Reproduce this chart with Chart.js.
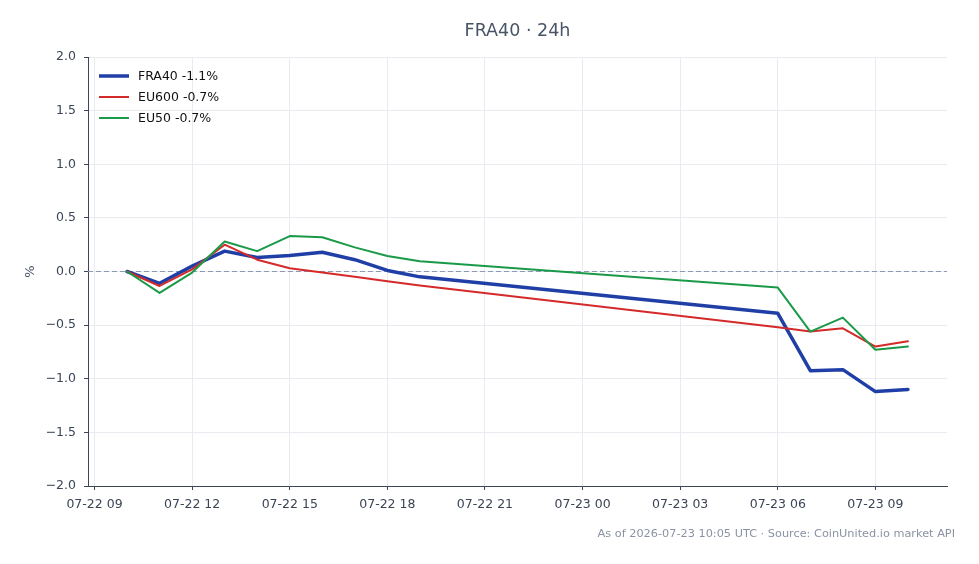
<!DOCTYPE html>
<html>
<head>
  <title>FRA40 24h</title>
  <script src="https://cdn.jsdelivr.net/npm/chart.js@4/dist/chart.umd.min.js"></script>
  <style>
    body { margin: 0; background: #fff; }
  </style>
</head>
<body>
  <canvas id="chart" width="979" height="564"></canvas>
  <script>
    // hours counted from 07-22 00:00 UTC
    const hours = [10, 11, 12, 13, 14, 15, 16, 17, 18, 19, 30, 31, 32, 33, 34];
    const fra40 = [0.00, -0.11, 0.05, 0.19, 0.13, 0.15, 0.18, 0.11, 0.01, -0.05, -0.39, -0.925, -0.915, -1.12, -1.10];
    const eu600 = [0.00, -0.135, 0.02, 0.25, 0.11, 0.03, -0.01, -0.05, -0.09, -0.13, -0.52, -0.56, -0.53, -0.70, -0.65];
    const eu50 = [0.00, -0.20, -0.01, 0.28, 0.19, 0.33, 0.32, 0.225, 0.145, 0.095, -0.15, -0.56, -0.43, -0.73, -0.70];
    const tickHours = [9, 12, 15, 18, 21, 24, 27, 30, 33];
    const tickLabels = ['07-22 09', '07-22 12', '07-22 15', '07-22 18', '07-22 21', '07-23 00', '07-23 03', '07-23 06', '07-23 09'];
    const seriesNames = ['FRA40 -1.1%', 'EU600 -0.7%', 'EU50 -0.7%'];

    const pts = vals => hours.map((h, i) => ({ x: h, y: vals[i] }));
    const axisColor = '#3b4556';
    const gridColor = '#e8ebf0';
    const font = 'DejaVu Sans';

    const extras = {
      id: 'extras',
      beforeDatasetsDraw(chart) {
        const { ctx, chartArea, scales } = chart;
        const y0 = scales.y.getPixelForValue(0);
        ctx.save();
        ctx.strokeStyle = '#8d9ab6';
        ctx.lineWidth = 1;
        ctx.setLineDash([5, 3]);
        ctx.beginPath();
        ctx.moveTo(chartArea.left, y0);
        ctx.lineTo(chartArea.right, y0);
        ctx.stroke();
        ctx.restore();
      },
      afterDraw(chart) {
        const { ctx, chartArea } = chart;
        ctx.save();
        ctx.fillStyle = '#485468';
        ctx.font = '17.5px ' + font;
        ctx.textAlign = 'center';
        ctx.textBaseline = 'middle';
        ctx.fillText('FRA40 · 24h', (chartArea.left + chartArea.right) / 2, 31);

        ctx.fillStyle = '#8a93a3';
        ctx.font = '11.3px ' + font;
        ctx.textAlign = 'right';
        ctx.textBaseline = 'alphabetic';
        ctx.fillText('As of 2026-07-23 10:05 UTC · Source: CoinUnited.io market API', 955, 537);

        ctx.translate(31, (chartArea.top + chartArea.bottom) / 2);
        ctx.rotate(-Math.PI / 2);
        ctx.fillStyle = '#485468';
        ctx.font = '13px ' + font;
        ctx.textAlign = 'center';
        ctx.textBaseline = 'middle';
        ctx.fillText('%', 0, 0);
        ctx.restore();

        // legend inside plot, top-left
        ctx.save();
        chart.data.datasets.forEach((ds, i) => {
          const y = 76 + i * 21;
          ctx.strokeStyle = ds.borderColor;
          ctx.lineWidth = ds.borderWidth;
          ctx.beginPath();
          ctx.moveTo(99, y);
          ctx.lineTo(129, y);
          ctx.stroke();
          ctx.fillStyle = '#111';
          ctx.font = '12.5px ' + font;
          ctx.textBaseline = 'middle';
          ctx.fillText(ds.label, 138, y + 1);
        });
        ctx.restore();
      }
    };

    new Chart(document.getElementById('chart'), {
      type: 'line',
      data: {
        datasets: [
          { label: seriesNames[0], data: pts(fra40), borderColor: '#1f3fa6', borderWidth: 3.5, order: 3 },
          { label: seriesNames[1], data: pts(eu600), borderColor: '#d42a2a', borderWidth: 2, order: 2 },
          { label: seriesNames[2], data: pts(eu50), borderColor: '#1a9a48', borderWidth: 2, order: 1 }
        ]
      },
      options: {
        responsive: false,
        animation: false,
        elements: { point: { radius: 0 }, line: { tension: 0, borderCapStyle: 'round', borderJoinStyle: 'round' } },
        layout: { padding: { top: 57, right: 32, bottom: 44, left: 0 } },
        plugins: { legend: { display: false }, tooltip: { enabled: false } },
        scales: {
          x: {
            type: 'linear',
            min: 8.8,
            max: 35.2,
            afterBuildTicks: scale => { scale.ticks = tickHours.map(v => ({ value: v })); },
            afterFit: scale => { scale.height = 34; },
            ticks: {
              callback: v => tickLabels[tickHours.indexOf(v)],
              color: axisColor,
              font: { family: font, size: 12.5 },
              maxRotation: 0,
              padding: 7
            },
            grid: { color: gridColor, tickColor: axisColor, tickLength: 4 },
            border: { color: axisColor, width: 1 }
          },
          y: {
            min: -2,
            max: 2,
            afterFit: scale => { scale.width = 88; },
            ticks: {
              stepSize: 0.5,
              callback: v => v.toFixed(1).replace('-', '\u2212'),
              color: axisColor,
              font: { family: font, size: 12.5 },
              padding: 8
            },
            grid: { color: gridColor, tickColor: axisColor, tickLength: 4 },
            border: { color: axisColor, width: 1 }
          }
        }
      },
      plugins: [extras]
    });
  </script>
</body>
</html>
